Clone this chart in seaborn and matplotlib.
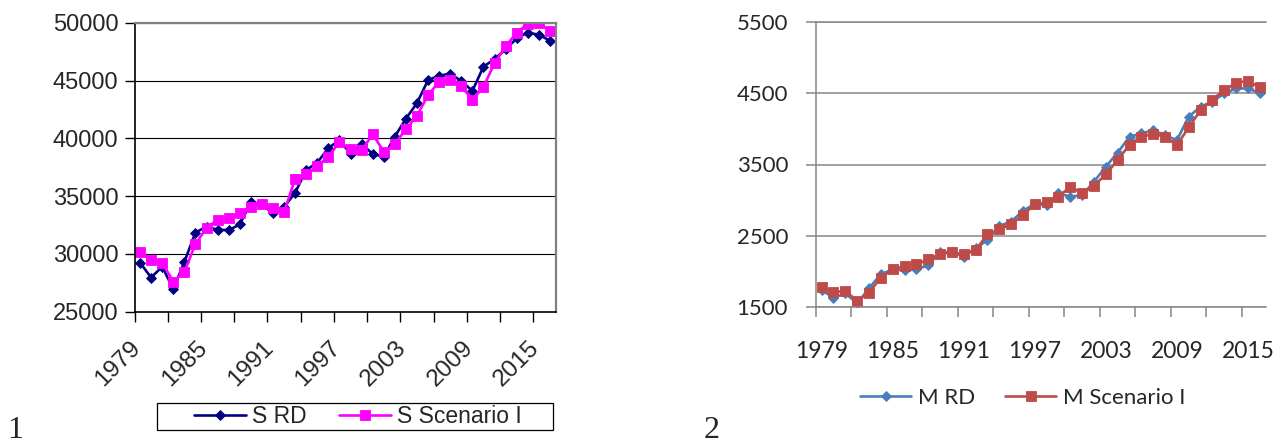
import numpy as np
import matplotlib
matplotlib.use("Agg")
import matplotlib.pyplot as plt
import matplotlib.transforms as mtransforms
from matplotlib.patches import Rectangle
import seaborn as sns

# ---- data -------------------------------------------------------------
years = list(range(1979, 2017))

s_rd = [29250, 27950, 28900, 26950, 29300, 31850, 32350, 32100, 32050, 32550,
        34450, 34300, 33500, 34050, 35300, 37250, 37900, 39150, 39850, 38650,
        39500, 38650, 38400, 40150, 41700, 43050, 45050, 45400, 45600, 44950,
        44100, 46200, 46850, 47700, 48650, 49150, 48950, 48450]
s_scenario = [30200, 29450, 29250, 27600, 28450, 30850, 32250, 32950, 33100, 33500,
              34100, 34350, 33950, 33600, 36500, 36900, 37600, 38400, 39700, 39050,
              38950, 40350, 38850, 39500, 40800, 41950, 43750, 44900, 45050, 44500,
              43350, 44450, 46500, 47950, 49150, 49900, 49950, 49300]

m_rd = [1740, 1635, 1695, 1555, 1765, 1965, 2030, 2020, 2030, 2090,
        2275, 2270, 2210, 2325, 2440, 2640, 2700, 2850, 2950, 2930,
        3095, 3050, 3070, 3260, 3470, 3665, 3890, 3935, 3980, 3910,
        3840, 4170, 4310, 4380, 4495, 4565, 4565, 4500]
m_scenario = [1790, 1710, 1730, 1590, 1705, 1915, 2030, 2080, 2100, 2170,
              2245, 2270, 2245, 2300, 2520, 2590, 2665, 2790, 2945, 2970,
              3050, 3190, 3095, 3200, 3365, 3560, 3780, 3890, 3925, 3890,
              3770, 4020, 4260, 4410, 4540, 4645, 4670, 4580]

s_labels = ["S RD", "S Scenario I"]
m_labels = ["M RD", "M Scenario I"]
s_ticks = list(range(25000, 50001, 5000))
m_ticks = list(range(1500, 5501, 1000))

# ---- figure -----------------------------------------------------------
sns.set_style("ticks")
plt.rcParams["font.family"] = ["Liberation Sans", "DejaVu Sans"]

W, H = 1283, 443
fig = plt.figure(figsize=(W / 100, H / 100), dpi=100)


def px_box(x0, x1, ytop, ybot):
    return [x0 / W, 1 - ybot / H, (x1 - x0) / W, (ybot - ytop) / H]


ax1 = fig.add_axes(px_box(134.5, 555.5, 22.7, 311.7))
ax2 = fig.add_axes(px_box(815.7, 1265.7, 21.7, 307.3))

idx = np.arange(len(years))

# ---- left panel: S ------------------------------------------------------
sns.lineplot(x=idx, y=s_rd, ax=ax1, color="#000080", marker="D", markersize=5.0,
             markeredgecolor="#000080", markeredgewidth=0.6, linewidth=1.9,
             label=s_labels[0], legend=False)
sns.lineplot(x=idx, y=s_scenario, ax=ax1, color="#FF00FF", marker="s", markersize=6.8,
             markeredgecolor="#FF00FF", markeredgewidth=0.6, linewidth=1.9,
             label=s_labels[1], legend=False)

ax1.set_xlim(-0.5, 37.5)
ax1.set_ylim(25000, 50000)
ax1.set_yticks(s_ticks)
ax1.set_yticklabels([str(v) for v in s_ticks])
ax1.set_axisbelow(True)
ax1.yaxis.grid(True, color="black", linewidth=0.8)
ax1.xaxis.grid(False)
ax1.set_xlabel("")
ax1.set_ylabel("")
for side in ("left", "bottom"):
    ax1.spines[side].set_color("black")
    ax1.spines[side].set_linewidth(1.2)
for side in ("top", "right"):
    ax1.spines[side].set_visible(True)
    ax1.spines[side].set_color("#808080")
    ax1.spines[side].set_linewidth(1.6)

ax1.set_xticks(idx[::6])
ax1.set_xticklabels([str(y) for y in years[::6]])
ax1.set_xticks(np.arange(-0.5, 37, 3), minor=True)
ax1.tick_params(axis="y", which="major", direction="out", length=7, width=1,
                color="black", pad=4.6, labelsize=17)
ax1.tick_params(axis="x", which="major", length=0, pad=18, labelsize=17.5)
ax1.tick_params(axis="x", which="minor", direction="out", length=7, width=1,
                color="black")
shift = mtransforms.ScaledTranslation(5 / 100, 0, fig.dpi_scale_trans)
for lab in ax1.get_xticklabels():
    lab.set_rotation(45)
    lab.set_ha("right")
    lab.set_va("top")
    lab.set_transform(lab.get_transform() + shift)

h1, l1 = ax1.get_legend_handles_labels()
fig.legend(h1, l1, loc="center", bbox_to_anchor=(0.279, 0.06), ncol=2,
           frameon=False, fontsize=16.5, handlelength=2.26, handletextpad=0.27,
           columnspacing=1.43, borderpad=0.0)
fig.patches.append(Rectangle((157 / W, 1 - 430 / H), (552.6 - 157) / W, 27.3 / H,
                             transform=fig.transFigure, fill=False,
                             edgecolor="black", linewidth=0.9))

# ---- right panel: M -----------------------------------------------------
blue, red, grid_grey = "#4A7EBB", "#BE4B48", "#868686"
sns.lineplot(x=idx, y=m_rd, ax=ax2, color=blue, marker="D", markersize=5.0,
             markeredgecolor=blue, markeredgewidth=0.6, linewidth=1.9,
             label=m_labels[0], legend=False)
sns.lineplot(x=idx, y=m_scenario, ax=ax2, color=red, marker="s", markersize=6.8,
             markeredgecolor=red, markeredgewidth=0.6, linewidth=1.9,
             label=m_labels[1], legend=False)

ax2.set_xlim(-0.5, 37.5)
ax2.set_ylim(1500, 5500)
ax2.set_yticks(m_ticks)
ax2.set_yticklabels([str(v) for v in m_ticks])
ax2.set_axisbelow(True)
ax2.yaxis.grid(True, color=grid_grey, linewidth=1.1)
ax2.xaxis.grid(False)
ax2.set_xlabel("")
ax2.set_ylabel("")
for side in ("left", "bottom", "top"):
    ax2.spines[side].set_visible(True)
    ax2.spines[side].set_color(grid_grey)
    ax2.spines[side].set_linewidth(1.1)
ax2.spines["right"].set_visible(False)

ax2.set_xticks(idx[::6])
ax2.set_xticklabels([str(y) for y in years[::6]])
ax2.set_xticks(np.arange(-0.5, 37, 3), minor=True)
ax2.tick_params(axis="y", which="major", direction="out", length=7, width=1.1,
                color=grid_grey, pad=12.8, labelsize=16)
ax2.tick_params(axis="x", which="major", length=0, pad=24, labelsize=16.5)
ax2.tick_params(axis="x", which="minor", direction="out", length=7.5, width=1.1,
                color=grid_grey)
for lab in ax2.get_xticklabels() + ax2.get_yticklabels():
    lab.set_fontfamily(["Lato", "DejaVu Sans"])

h2, l2 = ax2.get_legend_handles_labels()
fig.legend(h2, l2, loc="center", bbox_to_anchor=(0.797, 0.1016), ncol=2,
           frameon=False, prop={"family": ["Lato", "DejaVu Sans"], "size": 16},
           handlelength=2.3, handletextpad=0.3, columnspacing=1.35)

# ---- panel numbers ------------------------------------------------------
fig.text(15 / W, 1 - 430 / H, "1", family=["Liberation Serif", "DejaVu Serif"],
         fontsize=23, ha="center", va="center")
fig.text(712 / W, 1 - 430 / H, "2", family=["Liberation Serif", "DejaVu Serif"],
         fontsize=23, ha="center", va="center")

fig.savefig("out.png", dpi=100)
